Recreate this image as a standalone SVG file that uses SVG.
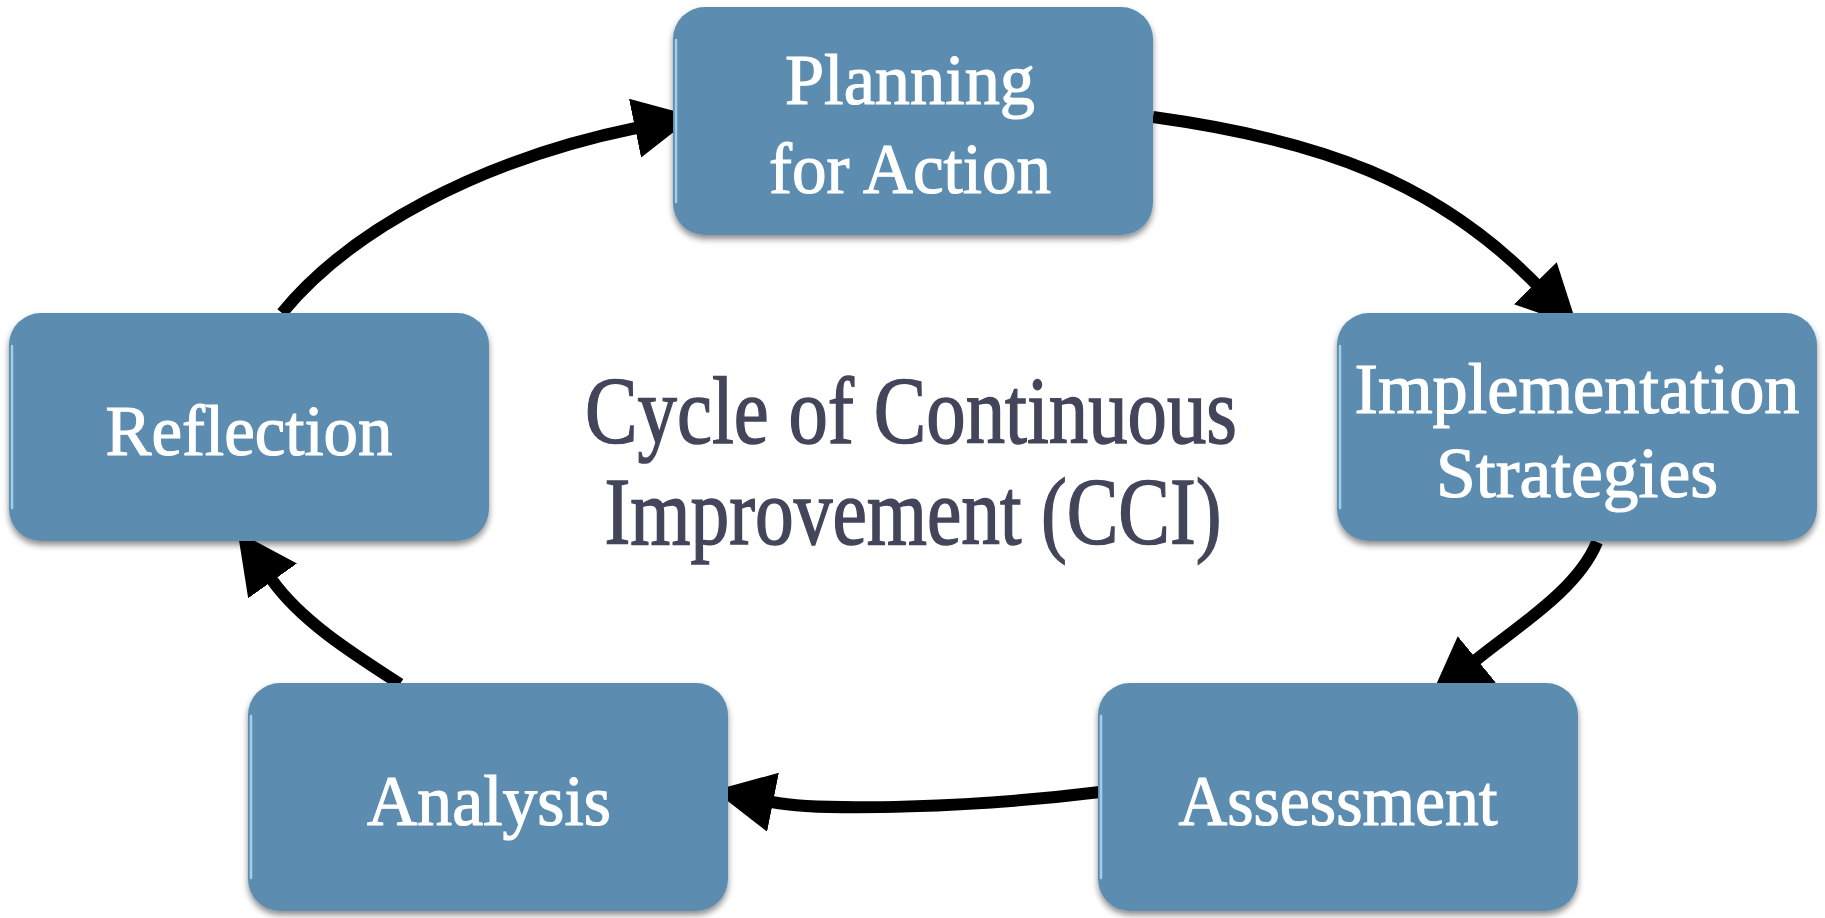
<svg xmlns="http://www.w3.org/2000/svg" width="1825" height="918" viewBox="0 0 1825 918">
  <defs>
    <style>
      .box { fill: #5B8CB0; filter: url(#shadow); }
      .hl { fill: none; stroke: #A9D6F2; stroke-width: 2.5; stroke-linecap: round; opacity: 0.9; }
      .lbl { font-family: "Liberation Serif", "DejaVu Serif", serif; font-size: 72px; fill: #FFFFFF; stroke: #FFFFFF; stroke-width: 1.2; text-anchor: middle; }
      .title { font-family: "Liberation Serif", "DejaVu Serif", serif; font-size: 96px; fill: #43465A; stroke: #43465A; stroke-width: 1.5; text-anchor: middle; }
      .arc { fill: none; stroke: #000000; stroke-width: 12; marker-end: url(#head); }
    </style>
    <filter id="shadow" x="-10%" y="-10%" width="120%" height="130%">
      <feDropShadow dx="0" dy="4" stdDeviation="3" flood-color="#000000" flood-opacity="0.45"/>
    </filter>
    <marker id="head" markerUnits="userSpaceOnUse" viewBox="0 0 60 60" refX="1" refY="30" markerWidth="60" markerHeight="60" orient="auto">
      <path d="M0,0 L60,30 L0,60 Z" fill="#000000"/>
    </marker>
  </defs>

  <rect width="1825" height="918" fill="#FFFFFF"/>

  <!-- connectors -->
  <g id="connectors">
    <path class="arc" d="M1153,117 C1320,140 1436,182 1536,284"/>
    <path class="arc" d="M1597,542 C1578,590 1515,628 1476,660"/>
    <path class="arc" d="M1100,792 C980,807 822,812 772,802"/>
    <path class="arc" d="M400,684 C355,655 302,622 272,580"/>
    <path class="arc" d="M282,313 C350,230 480,160 636,128"/>
  </g>

  <!-- nodes -->
  <g id="planning">
    <rect class="box" x="673" y="7" width="480" height="228" rx="32"/>
    <path class="hl" d="M676,40 L676,202"/>
    <text class="lbl" x="910" y="104" textLength="250" lengthAdjust="spacingAndGlyphs">Planning</text>
    <text class="lbl" x="910" y="193" textLength="282" lengthAdjust="spacingAndGlyphs">for Action</text>
  </g>

  <g id="implementation">
    <rect class="box" x="1337" y="313" width="480" height="228" rx="32"/>
    <path class="hl" d="M1340,346 L1340,508"/>
    <text class="lbl" x="1577" y="413" textLength="445" lengthAdjust="spacingAndGlyphs">Implementation</text>
    <text class="lbl" x="1577" y="497" textLength="282" lengthAdjust="spacingAndGlyphs">Strategies</text>
  </g>

  <g id="assessment">
    <rect class="box" x="1098" y="683" width="480" height="228" rx="32"/>
    <path class="hl" d="M1101,716 L1101,878"/>
    <text class="lbl" x="1338" y="825" textLength="319" lengthAdjust="spacingAndGlyphs">Assessment</text>
  </g>

  <g id="analysis">
    <rect class="box" x="248" y="683" width="480" height="228" rx="32"/>
    <path class="hl" d="M251,716 L251,878"/>
    <text class="lbl" x="489" y="825" textLength="244" lengthAdjust="spacingAndGlyphs">Analysis</text>
  </g>

  <g id="reflection">
    <rect class="box" x="9" y="313" width="480" height="228" rx="32"/>
    <path class="hl" d="M12,346 L12,508"/>
    <text class="lbl" x="249" y="455" textLength="287" lengthAdjust="spacingAndGlyphs">Reflection</text>
  </g>

  <!-- centre title -->
  <g id="title">
    <text class="title" x="911" y="443" textLength="652" lengthAdjust="spacingAndGlyphs">Cycle of Continuous</text>
    <text class="title" x="913" y="544" textLength="617" lengthAdjust="spacingAndGlyphs">Improvement (CCI)</text>
  </g>
</svg>
